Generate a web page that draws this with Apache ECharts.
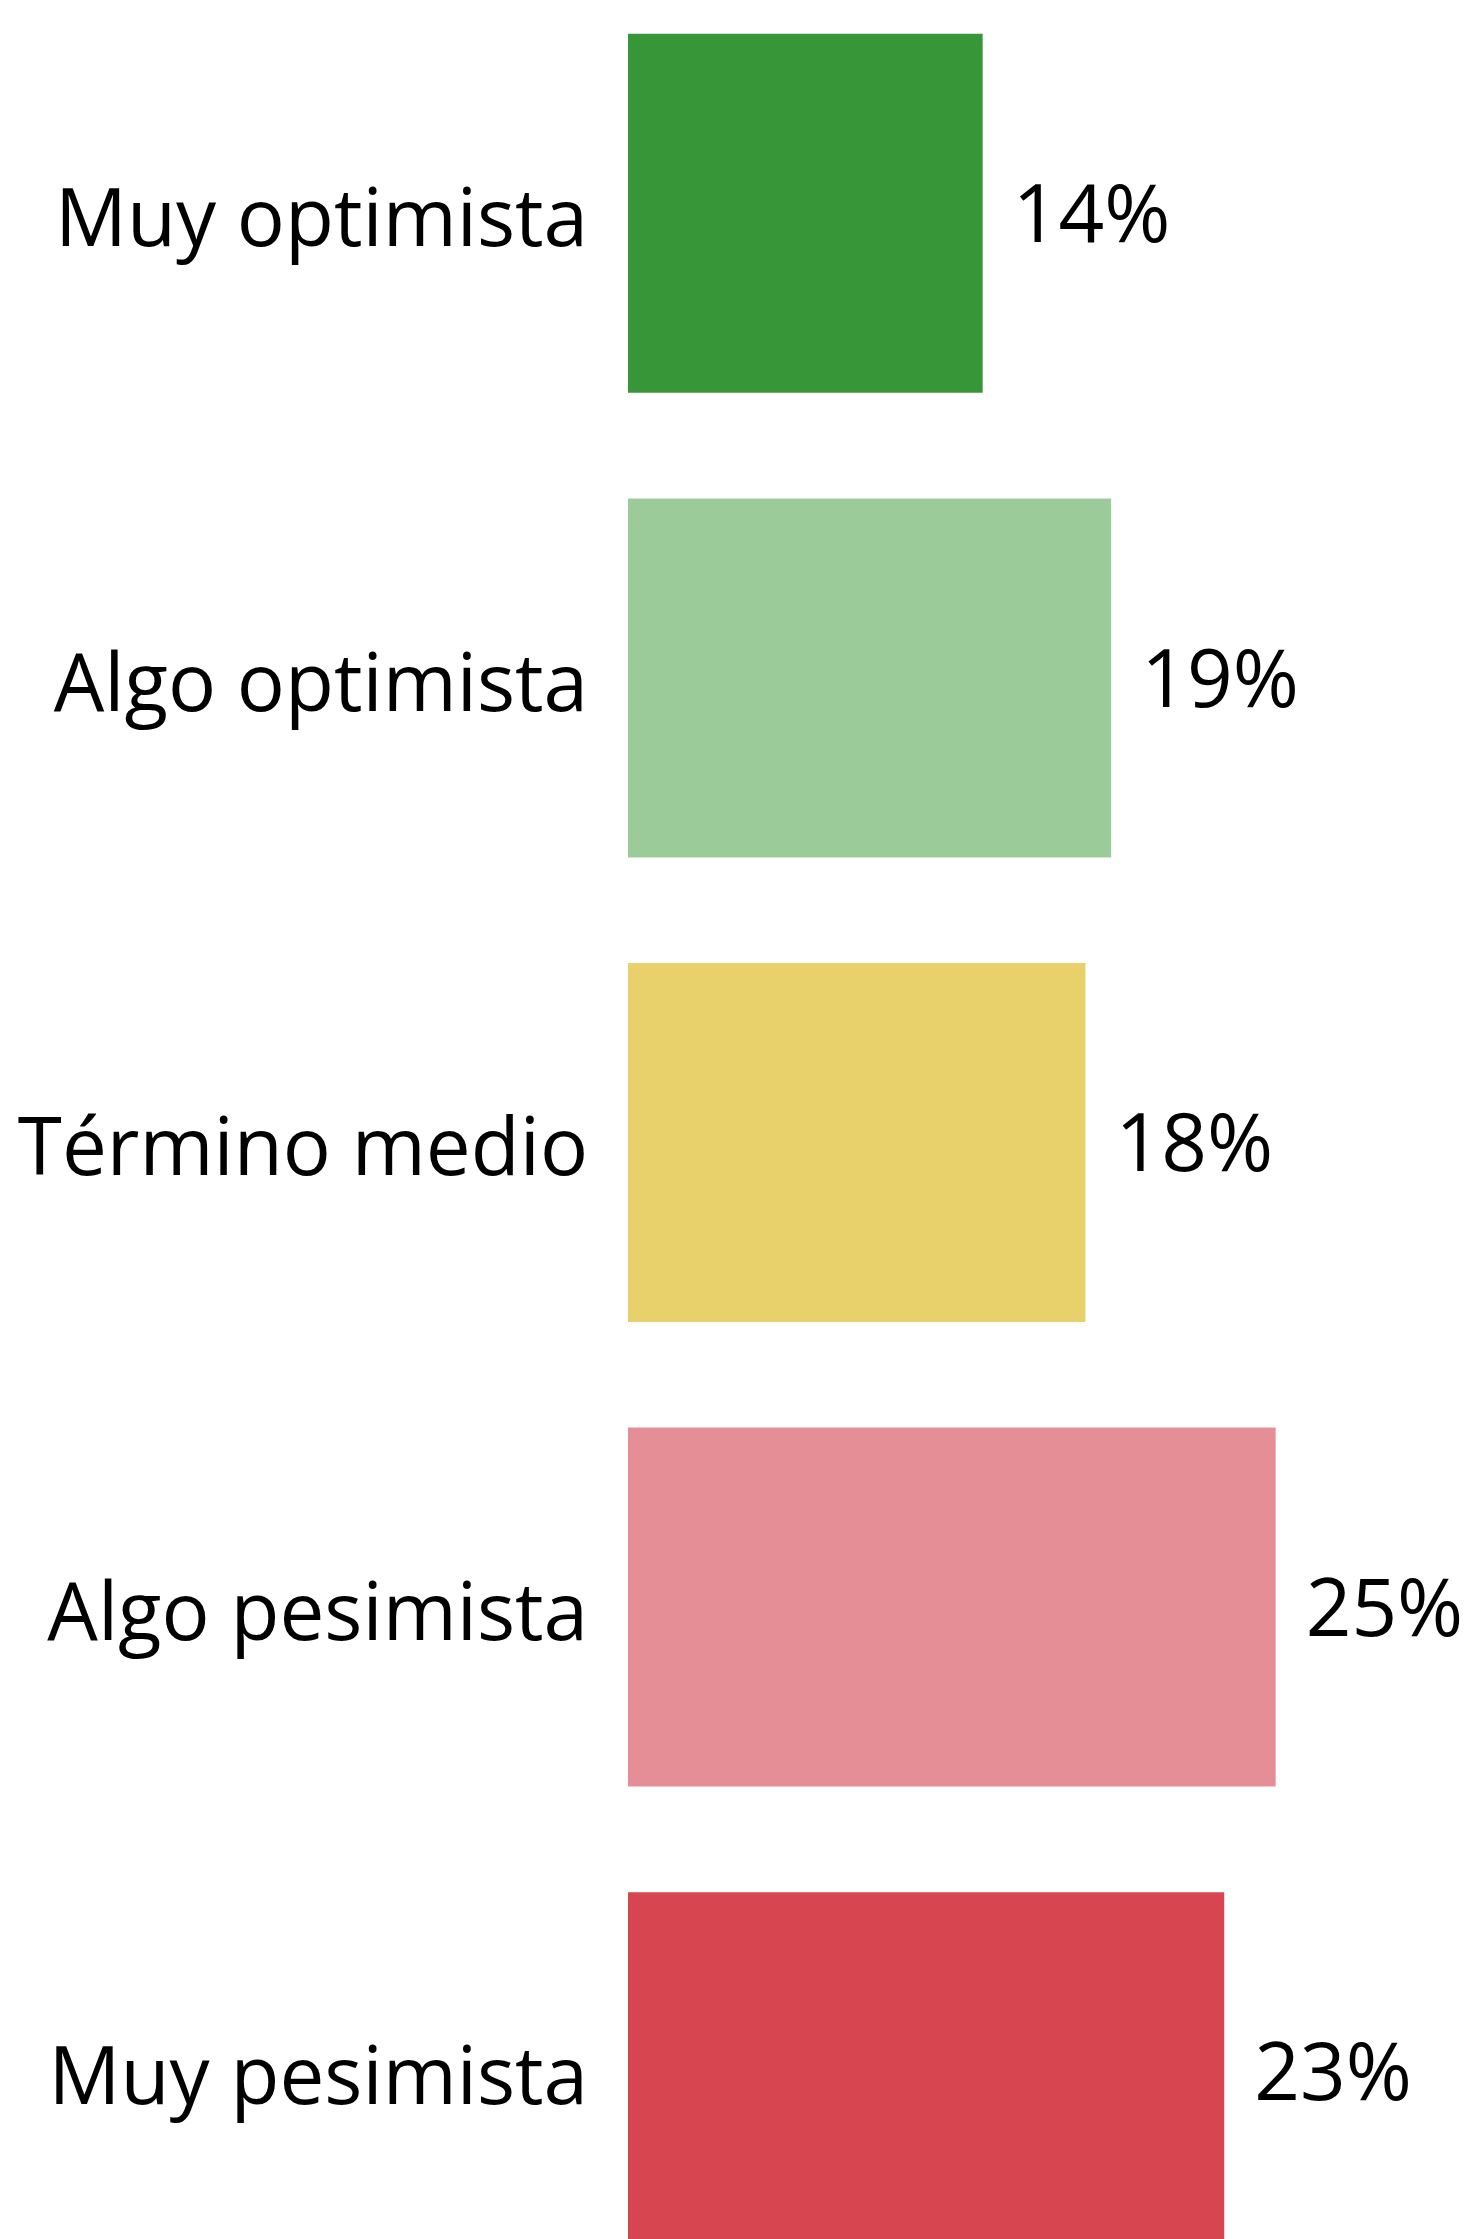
<!DOCTYPE html>
<html>
<head>
<meta charset="utf-8">
<script src="https://cdn.jsdelivr.net/npm/echarts@6/dist/echarts.min.js"></script>
<style>
html,body{margin:0;padding:0;background:#fff;overflow:hidden;width:1478px;height:2239px;}
#chart{position:absolute;left:0;top:-19px;width:1478px;height:2323px;}
</style>
</head>
<body>
<div id="chart"></div>
<script>
const categories = ["Muy optimista", "Algo optimista", "Término medio", "Algo pesimista", "Muy pesimista"];
const values = [13.8, 18.8, 17.8, 25.2, 23.2];
const colors = ["#379637", "#9ccb9a", "#e8d16a", "#e58e96", "#d64550"];

const chart = echarts.init(document.getElementById('chart'));
chart.setOption({
  animation: false,
  grid: { left: 628, right: 79, top: 0, bottom: 0, containLabel: false },
  xAxis: { type: 'value', min: 0, max: 30, show: false },
  yAxis: {
    type: 'category',
    inverse: true,
    data: categories,
    axisLine: { show: false },
    axisTick: { show: false },
    splitLine: { show: false },
    axisLabel: {
      margin: 40, color: '#000',
      formatter: v => '{a|' + v + '}',
      rich: { a: { fontSize: 80, fontFamily: 'Open Sans', color: '#000', padding: [20, 0, 0, 0] } }
    }
  },
  series: [{
    type: 'bar',
    barWidth: 359,
    data: values.map((v, i) => ({ value: v, itemStyle: { color: colors[i] } })),
    label: {
      show: true,
      position: 'right',
      distance: 30,
      fontSize: 80,
      color: '#000',
      fontFamily: 'Open Sans',
      offset: [0, 6],
      formatter: p => Math.round(p.value) + '%'
    }
  }]
});
</script>
</body>
</html>
